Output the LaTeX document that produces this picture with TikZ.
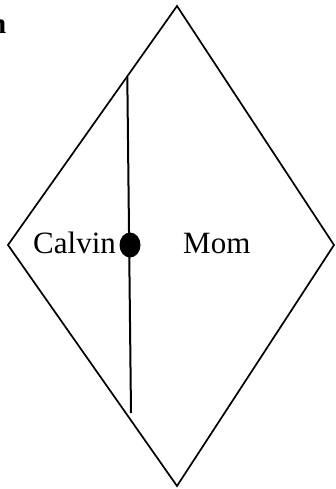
\documentclass[tikz,border=0pt]{standalone}
\usepackage{fontspec}
\setmainfont{Liberation Serif}
\begin{document}
\begin{tikzpicture}[x=1pt,y=-1pt,
  edge/.style={line width=1.7pt,line join=miter},
  lbl/.style={inner sep=0pt,font=\fontsize{31}{31}\selectfont}]
\clip (0,0) rectangle (335,489);
\useasboundingbox (0,0) rectangle (335,489);
\coordinate (T) at (177,6);
\coordinate (R) at (334,245);
\coordinate (B) at (177,486);
\coordinate (L) at (8,245);
\draw[edge] (T) -- (R) -- (B) -- (L) -- cycle;
\coordinate (vt) at (127.3,77);
\coordinate (vb) at (131,413);
\draw[line width=2pt] (vt) -- (vb);
\fill (130,245) ellipse [x radius=10.5pt, y radius=12.5pt];
\node[lbl,anchor=base west] (calvin) at (33,253) {Calvin};
\node[lbl,anchor=base west] (mom) at (183,253) {Mom};
\node[inner sep=0pt,anchor=base east,font=\fontsize{29}{29}\selectfont\bfseries] (n) at (6.5,34) {n};
\end{tikzpicture}
\end{document}
